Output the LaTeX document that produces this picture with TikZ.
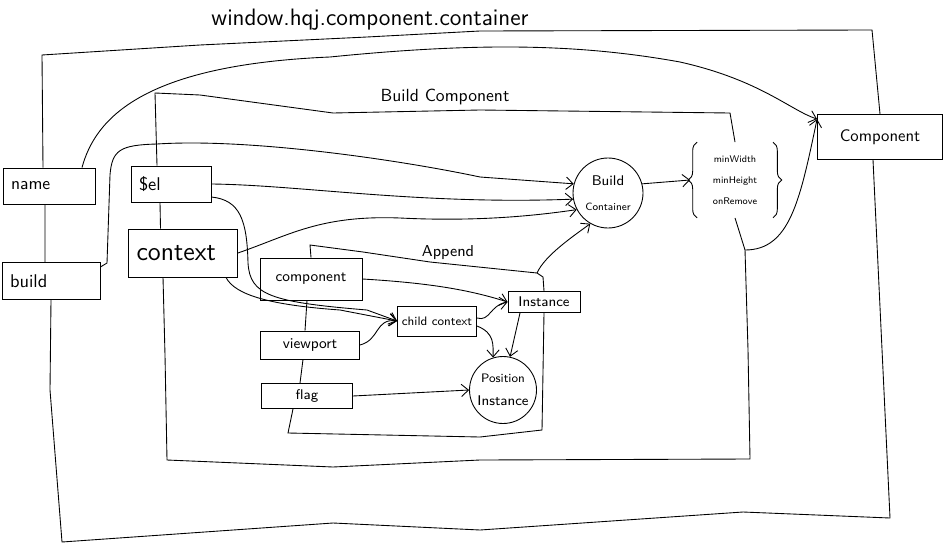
\documentclass[tikz,border=0pt]{standalone}
\usepackage{tikz}
\usetikzlibrary{positioning,arrows.meta,decorations.pathreplacing}
\renewcommand{\familydefault}{\sfdefault}

\begin{document}
\begin{tikzpicture}[
  x=0.02cm, y=-0.02cm,
  line width=0.5pt,
  lbl/.style={inner sep=1pt},
  box/.style={draw, rectangle, inner sep=1pt},
  lbox/.style={draw, rectangle, align=left, inner xsep=0.16cm, inner ysep=1pt},
  blob/.style={draw, circle, inner sep=0pt, align=center},
  arr/.style={-{Straight Barb[length=4pt,width=7pt]}},
  brc/.style={decorate, decoration={brace, amplitude=5pt}}
]
\useasboundingbox (0,0) rectangle (945,544);

% inputs of the container
\node[lbox, text width=1.52cm, minimum height=0.72cm, font=\fontsize{10}{12}\selectfont] (name) at (49,186) {name};
\node[lbox, text width=1.64cm, minimum height=0.74cm, font=\fontsize{10.5}{12}\selectfont] (build) at (51,281) {build};
\node[box, minimum width=2.5cm, minimum height=0.9cm, font=\fontsize{9.5}{11}\selectfont] (component) at (880,137) {Component};

% build component
\node[lbox, text width=1.28cm, minimum height=0.72cm, font=\fontsize{10.5}{12}\selectfont] (el) at (171,184) {\$el};
\node[lbox, text width=1.86cm, minimum height=0.96cm, font=\fontsize{15}{17}\selectfont] (context) at (183,253) {context};
\node[blob, minimum size=1.4cm] (buildct) at (608,193) {{\fontsize{8}{9}\selectfont Build}\\[2pt]{\fontsize{6}{7}\selectfont Container}};
\node[lbl, align=center, minimum width=1.5cm, minimum height=1.5cm, font=\fontsize{5.5}{12}\selectfont] (props) at (735,180) {minWidth\\minHeight\\onRemove};
\draw[brc] (props.south west) -- (props.north west);
\draw[brc] (props.north east) -- (props.south east);

% append
\node[box, minimum width=2.04cm, minimum height=0.84cm, font=\fontsize{8.5}{10}\selectfont] (comp) at (311,279) {component};
\node[box, minimum width=1.98cm, minimum height=0.56cm, font=\fontsize{8.5}{10}\selectfont] (viewport) at (310,345) {viewport};
\node[box, minimum width=1.82cm, minimum height=0.5cm, font=\fontsize{8}{10}\selectfont] (flag) at (307,396) {flag};
\node[box, minimum width=1.58cm, minimum height=0.6cm, font=\fontsize{7}{9}\selectfont] (childctx) at (437,321) {child context};
\node[box, minimum width=1.44cm, minimum height=0.42cm, font=\fontsize{8}{10}\selectfont] (instance) at (544,302) {Instance};
\node[blob, minimum size=1.34cm] (posinst) at (503,390) {{\fontsize{7}{8}\selectfont Position}\\[1pt]{\fontsize{8}{9}\selectfont Instance}};

% frame labels
\node[lbl, font=\fontsize{13.5}{16}\selectfont] (title) at (370,20) {window.hqj.component.container};
\node[lbl, font=\fontsize{10}{12}\selectfont] (bclabel) at (445,97) {Build Component};
\node[lbl, font=\fontsize{9}{11}\selectfont] (aplabel) at (448,253) {Append};

% container frame
\draw ([xshift=-0.12cm]name.north) -- (42,55) -- (200,45) -- (367,37) -- (480,31) -- (872,30) -- (component.north);
\draw ([xshift=-0.08cm]name.south) -- ([xshift=-0.12cm]build.north);
\draw (build.south) -- (50,390) -- (62,542) -- (333,523) -- (480,530) -- (743,512) -- (890,518) -- ([xshift=-0.14cm]component.south);

% build component frame
\coordinate (bcout) at (745,250);
\draw (props.north) -- (730,113) -- (480,110) -- (333,113) -- (200,95) -- (155,93) -- ([xshift=-0.28cm]el.north);
\draw ([xshift=-0.22cm]el.south) -- ([xshift=-0.45cm]context.north);
\draw ([xshift=-0.4cm]context.south) -- (165,355) -- (167,460) -- (333,467) -- (480,460) -- (750,459) -- (748,350) -- (bcout) -- (props.south);

% append frame
\coordinate (aptr) at (537,273);
\draw (instance.north) -- (543,277) -- (aptr) -- (430,262) -- (363,252) -- (310,245) -- (comp.north);
\draw ([xshift=-0.08cm]comp.south) -- ([xshift=-0.1cm]viewport.north);
\draw ([xshift=-0.14cm]viewport.south) -- ([xshift=-0.14cm]flag.north);
\draw ([xshift=-0.28cm]flag.south) -- (288,433) -- (480,437) -- (542,430) -- (instance.south);

% connectors
\draw[arr] ([xshift=0.66cm]name.north) .. controls (95,120) and (140,65) .. (330,57) .. controls (480,42) and (580,44) .. (680,62) .. controls (760,80) and (790,110) .. ([yshift=-0.1cm]component.north west);
\draw[arr] ([yshift=0.28cm]build.east) -- (107,263) -- (110,175) .. controls (112,150) and (120,145) .. (157,144) .. controls (250,138) and (400,160) .. (480,177) -- (buildct.165);
\draw[arr] (el.east) .. controls (300,185) and (420,205) .. (buildct.190);
\draw[arr] (context.east) .. controls (290,235) and (320,215) .. (400,218) .. controls (480,222) and (540,215) .. (buildct.208);
\draw[arr] (aptr) .. controls (545,255) and (575,235) .. (buildct.240);
\draw[arr] (buildct.15) -- ([xshift=-0.14cm]props.west);
\draw[arr] (bcout) .. controls (790,250) and (800,200) .. ([yshift=-0.1cm]component.north west);
\draw[arr] ([yshift=-0.26cm]el.east) .. controls (240,200) and (247,220) .. (248,263) .. controls (250,295) and (270,302) .. (367,310) -- (childctx.west);
\draw[arr] ([xshift=0.86cm]context.south) .. controls (235,295) and (270,305) .. (340,310) -- (childctx.west);
\draw[arr] (viewport.east) .. controls (380,340) and (375,318) .. (childctx.west);
\draw[arr] (comp.east) .. controls (430,283) and (470,290) .. (instance.west);
\draw[arr] ([yshift=0.06cm]childctx.east) .. controls (490,322) and (490,305) .. (instance.west);
\draw[arr] ([yshift=-0.1cm]childctx.east) .. controls (495,333) and (493,345) .. (posinst.107);
\draw[arr] ([xshift=-0.48cm]instance.south) -- (posinst.78);
\draw[arr] (flag.east) -- (posinst.west);

\end{tikzpicture}
\end{document}
